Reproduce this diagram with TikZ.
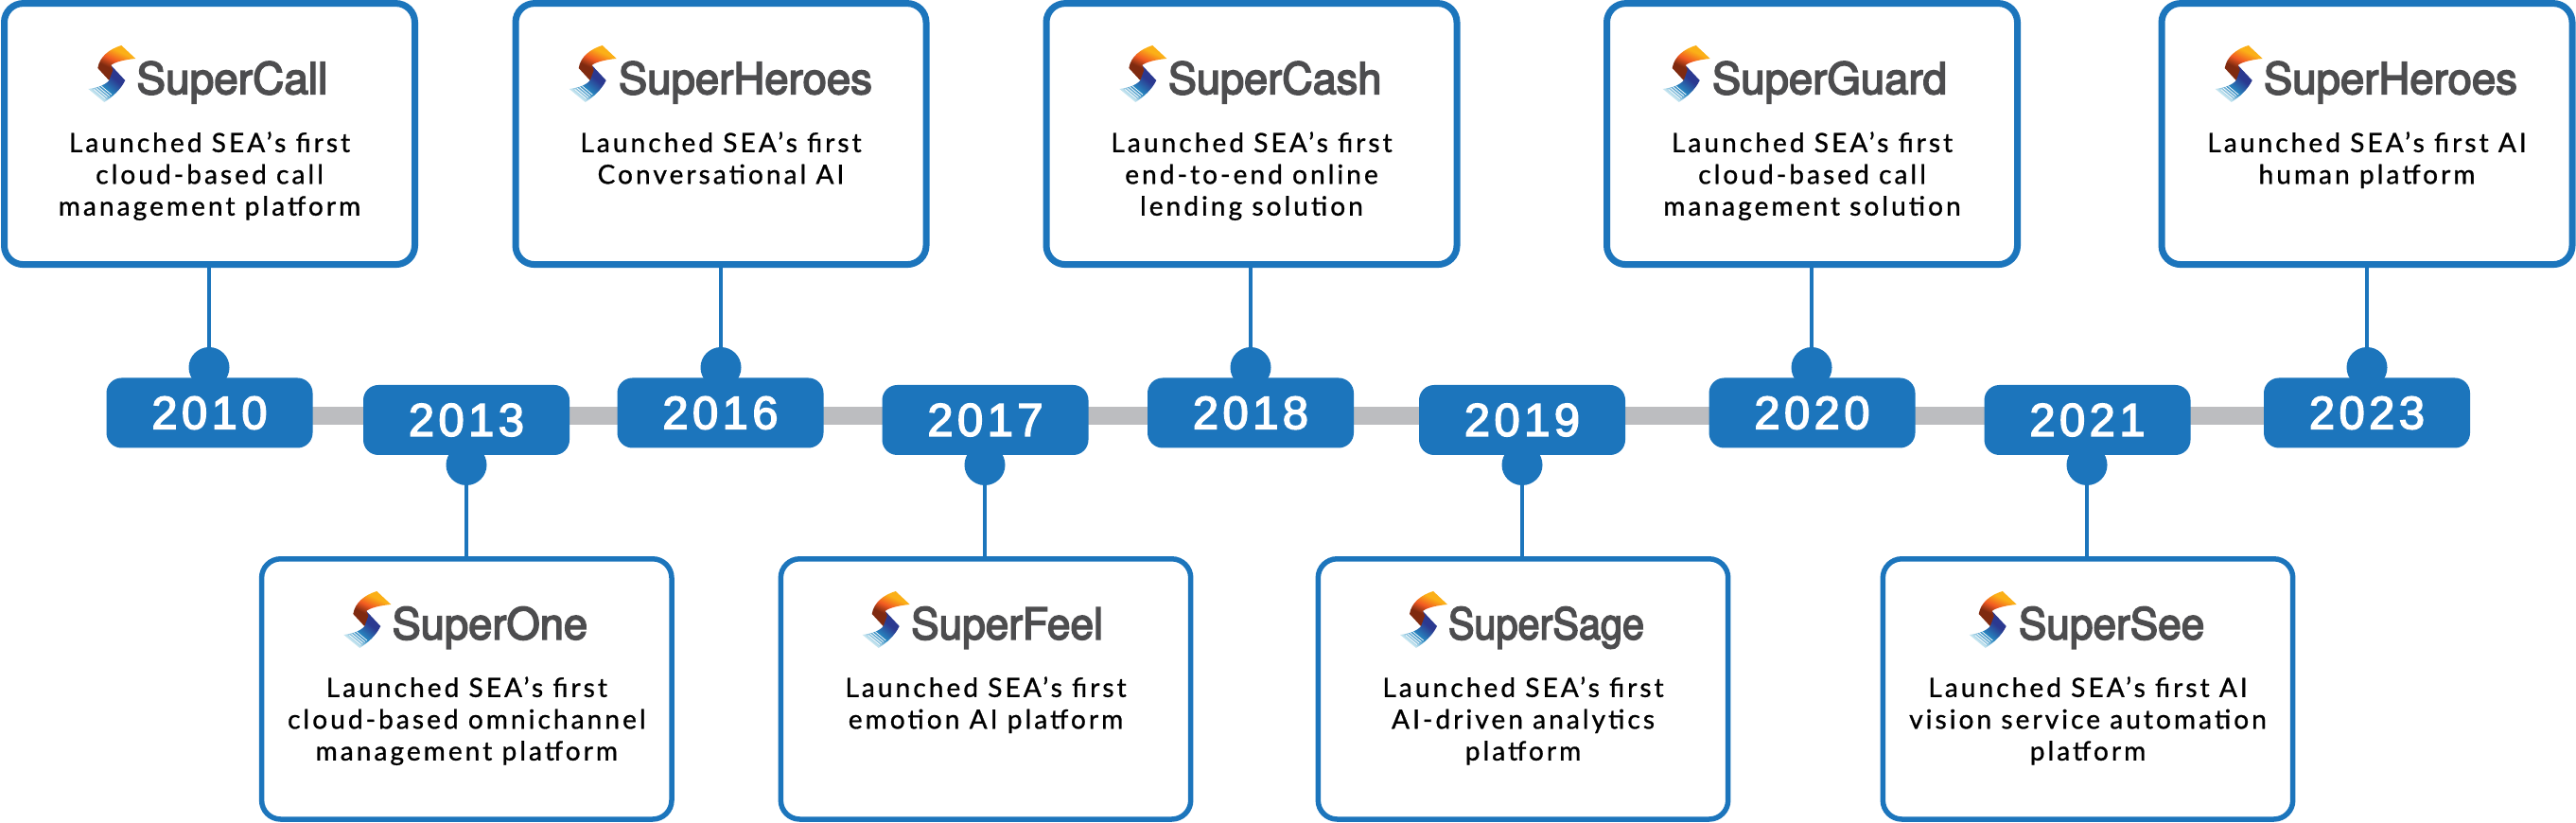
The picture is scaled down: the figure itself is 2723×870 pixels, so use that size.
\documentclass[tikz,border=0pt]{standalone}
\usepackage{fontspec}
\usepackage{graphicx}
\usetikzlibrary{backgrounds}
\newfontfamily\descfont[LetterSpace=11,FakeBold=1.0]{Lato}
\newfontfamily\yearfont[LetterSpace=9,FakeBold=3]{Liberation Sans}
\newfontfamily\brandfont[FakeBold=3.5]{TeX Gyre Heros}
\definecolor{sblue}{HTML}{1C75BC}
\definecolor{sgrey}{HTML}{BCBDC0}
\definecolor{stitle}{HTML}{4D4D4F}
\definecolor{lgdark}{HTML}{2B3990}
\definecolor{lgmid}{HTML}{2785BF}
\definecolor{lglight}{HTML}{C4E4EF}
\definecolor{lgbrown}{HTML}{7F2A10}
\definecolor{lgorange}{HTML}{F15A22}
\definecolor{lgyellow}{HTML}{FBB017}
\pgfdeclarehorizontalshading{logoblue}{100bp}{color(0bp)=(lglight);color(30bp)=(lglight);color(44bp)=(lgmid);color(62bp)=(lgdark);color(100bp)=(lgdark)}
\pgfdeclarehorizontalshading{logoorange}{100bp}{color(0bp)=(lgbrown);color(40bp)=(lgbrown);color(52bp)=(lgorange);color(66bp)=(lgyellow);color(100bp)=(lgyellow)}
\tikzset{
  x=0.5pt,y=-0.5pt,
  infobox/.style={draw=sblue,line width=3.5pt,fill=white,rounded corners=10pt,minimum width=217pt,minimum height=138pt,inner sep=0pt,outer sep=0pt},
  lowerbox/.style={infobox,line width=2.75pt,minimum width=216.7pt,minimum height=137.6pt},
  yearpill/.style={fill=sblue,text=white,rounded corners=8pt,minimum width=109pt,minimum height=37pt,inner sep=0pt,outer sep=0pt,font=\yearfont\fontsize{24.5}{26}\selectfont},
  dotmark/.style={circle,fill=sblue,minimum size=21.5pt,inner sep=0pt,outer sep=0pt},
  stem/.style={draw=sblue,line width=2.3pt},
  barline/.style={draw=sgrey,line width=9.7pt},
  brand/.style={anchor=base west,inner sep=0pt,text=stitle,font=\brandfont\fontsize{23}{25}\selectfont},
  desc/.style={anchor=north,inner sep=0pt,align=center,text=black,font=\descfont\fontsize{14}{16.75}\selectfont},
}
\newcommand{\slogo}[2]{%
\begin{scope}[shift={(#1,#2)}]
  \shade[shading=logoblue,shading angle=50] (24,21) -- (39,37) .. controls (34,47) and (26,54) .. (17,60) -- (0,46) .. controls (9,45) and (18,42) .. (22,37) -- cycle;
  \shade[shading=logoorange,shading angle=65] (35,0) -- (50,14) .. controls (38,15) and (27,18) .. (24,21) -- (26,26) -- (22,37) -- (10,24) .. controls (12,12) and (22,4) .. (35,0) -- cycle;
  \foreach \k in {0,1,2,3}{\draw[white,line width=0.35pt] (6+\k*2.2,46.5-\k*1.5) -- (18+\k*2.2,56.5-\k*1.5);}
\end{scope}}
\begin{document}
\begin{tikzpicture}
\useasboundingbox (0,0) rectangle (2723,870);
% top boxes
\node[infobox] (b1) at (221.5,141.6) {};
\node[infobox] (b3) at (762,141.6) {};
\node[infobox] (b5) at (1323,141.6) {};
\node[infobox] (b7) at (1915.5,141.6) {};
\node[infobox] (b9) at (2502,141.6) {};
% bottom boxes
\node[lowerbox] (b2) at (493.3,728.4) {};
\node[lowerbox] (b4) at (1042,728.4) {};
\node[lowerbox] (b6) at (1610,728.4) {};
\node[lowerbox] (b8) at (2207,728.4) {};
% dots
\node[dotmark] (d1) at (221,388.5) {};
\node[dotmark] (d3) at (762,388.5) {};
\node[dotmark] (d5) at (1322,388.5) {};
\node[dotmark] (d7) at (1915,388.5) {};
\node[dotmark] (d9) at (2502,388.5) {};
\node[dotmark] (d2) at (493,491.5) {};
\node[dotmark] (d4) at (1041,491.5) {};
\node[dotmark] (d6) at (1609,491.5) {};
\node[dotmark] (d8) at (2206,491.5) {};
% pills
\node[yearpill] (y1) at (221.5,436.5) {2010};
\node[yearpill] (y2) at (493,444) {2013};
\node[yearpill] (y3) at (761.5,436.5) {2016};
\node[yearpill] (y4) at (1041.5,444) {2017};
\node[yearpill] (y5) at (1322,436.5) {2018};
\node[yearpill] (y6) at (1609,444) {2019};
\node[yearpill] (y7) at (1915.5,436.5) {2020};
\node[yearpill] (y8) at (2206.5,444) {2021};
\node[yearpill] (y9) at (2502,436.5) {2023};
% connectors
\foreach \i in {1,3,5,7,9}{\draw[stem] (d\i.north) -- (d\i.north |- b\i.south);}
\foreach \i in {2,4,6,8}{\draw[stem] (d\i.south) -- (d\i.south |- b\i.north);}
\begin{scope}[on background layer]
  \fill[white] (0,0) rectangle (2723,870);
  \draw[barline] (y1.center |- 0,439.7) -- (y9.center |- 0,439.7);
\end{scope}
% logos and names
\slogo{93.3}{48}\node[brand] (t1) at (144,99.3) {\scalebox{1}[1]{SuperCall}};
\slogo{601.7}{48}\node[brand] (t3) at (653.5,99.3) {\scalebox{0.99}[1]{SuperHeroes}};
\slogo{1183.3}{48}\node[brand] (t5) at (1234.5,99.3) {\scalebox{0.98}[1]{SuperCash}};
\slogo{1757.7}{48}\node[brand] (t7) at (1809.5,99.3) {\scalebox{0.99}[1]{SuperGuard}};
\slogo{2341.7}{48}\node[brand] (t9) at (2392.5,99.3) {\scalebox{0.99}[1]{SuperHeroes}};
\slogo{363.3}{625}\node[brand] (t2) at (414.2,675.7) {\scalebox{0.985}[1]{SuperOne}};
\slogo{911.7}{625}\node[brand] (t4) at (962.8,675.7) {\scalebox{0.96}[1]{SuperFeel}};
\slogo{1480}{625}\node[brand] (t6) at (1530.5,675.7) {\scalebox{0.90}[1]{SuperSage}};
\slogo{2081.7}{625}\node[brand] (t8) at (2133.5,675.7) {\scalebox{0.96}[1]{SuperSee}};
% descriptions
\node[desc] (x1) at (221.5,139) {Launched SEA’s first\\cloud-based call\\management platform};
\node[desc] (x3) at (762,139) {Launched SEA’s first\\Conversational AI};
\node[desc] (x5) at (1323,139) {Launched SEA’s first\\end-to-end online\\lending solution};
\node[desc] (x7) at (1915.5,139) {Launched SEA’s first\\cloud-based call\\management solution};
\node[desc] (x9) at (2502,139) {Launched SEA’s first AI\\human platform};
\node[desc] (x2) at (493.3,715) {Launched SEA’s first\\cloud-based omnichannel\\management platform};
\node[desc] (x4) at (1042,715) {Launched SEA’s first\\emotion AI platform};
\node[desc] (x6) at (1610,715) {Launched SEA’s first\\AI-driven analytics\\platform};
\node[desc] (x8) at (2207,715) {Launched SEA’s first AI\\vision service automation\\platform};
\end{tikzpicture}
\end{document}
